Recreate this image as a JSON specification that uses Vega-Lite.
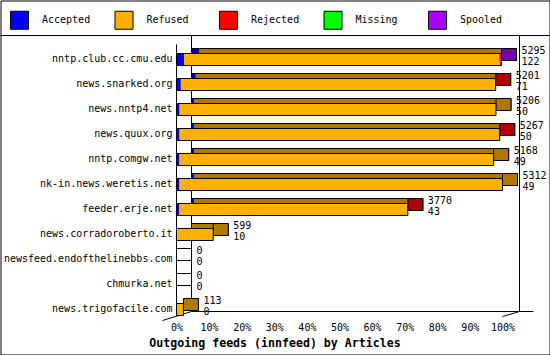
{
  "$schema": "https://vega.github.io/schema/vega-lite/v6.json",
  "width": 549,
  "height": 354,
  "autosize": "none",
  "padding": {"left": 0.5, "top": 0.5, "right": 0.5, "bottom": 0.5},
  "background": "white",
  "title": {"text": "Outgoing feeds (innfeed) by Articles", "orient": "bottom", "anchor": "middle", "frame": "group", "offset": -17, "font": "DejaVu Sans Mono", "fontSize": 11.6, "fontWeight": "bold", "color": "black"},
  "datasets": {
    "frame": [{"first": "nntp.club.cc.cmu.edu", "last": "news.trigofacile.com", "lo": 0, "hi": 5312}],
    "segs": [
      {"host": "nntp.club.cc.cmu.edu", "status": "Accepted", "n": 122},
      {"host": "nntp.club.cc.cmu.edu", "status": "Refused", "n": 5143},
      {"host": "nntp.club.cc.cmu.edu", "status": "Rejected", "n": 20},
      {"host": "nntp.club.cc.cmu.edu", "status": "Spooled", "n": 10},
      {"host": "news.snarked.org", "status": "Accepted", "n": 71},
      {"host": "news.snarked.org", "status": "Refused", "n": 5120},
      {"host": "news.snarked.org", "status": "Rejected", "n": 10},
      {"host": "news.nntp4.net", "status": "Accepted", "n": 50},
      {"host": "news.nntp4.net", "status": "Refused", "n": 5156},
      {"host": "news.quux.org", "status": "Accepted", "n": 50},
      {"host": "news.quux.org", "status": "Refused", "n": 5207},
      {"host": "news.quux.org", "status": "Rejected", "n": 10},
      {"host": "nntp.comgw.net", "status": "Accepted", "n": 49},
      {"host": "nntp.comgw.net", "status": "Refused", "n": 5119},
      {"host": "nk-in.news.weretis.net", "status": "Accepted", "n": 49},
      {"host": "nk-in.news.weretis.net", "status": "Refused", "n": 5263},
      {"host": "feeder.erje.net", "status": "Accepted", "n": 43},
      {"host": "feeder.erje.net", "status": "Refused", "n": 3717},
      {"host": "feeder.erje.net", "status": "Rejected", "n": 10},
      {"host": "news.corradoroberto.it", "status": "Accepted", "n": 10},
      {"host": "news.corradoroberto.it", "status": "Refused", "n": 589},
      {"host": "news.trigofacile.com", "status": "Refused", "n": 113}
    ],
    "totals": [
      {"host": "nntp.club.cc.cmu.edu", "total": 5295, "accepted": 122, "last": "Spooled"},
      {"host": "news.snarked.org", "total": 5201, "accepted": 71, "last": "Rejected"},
      {"host": "news.nntp4.net", "total": 5206, "accepted": 50, "last": "Refused"},
      {"host": "news.quux.org", "total": 5267, "accepted": 50, "last": "Rejected"},
      {"host": "nntp.comgw.net", "total": 5168, "accepted": 49, "last": "Refused"},
      {"host": "nk-in.news.weretis.net", "total": 5312, "accepted": 49, "last": "Refused"},
      {"host": "feeder.erje.net", "total": 3770, "accepted": 43, "last": "Rejected"},
      {"host": "news.corradoroberto.it", "total": 599, "accepted": 10, "last": "Refused"},
      {"host": "newsfeed.endofthelinebbs.com", "total": 0, "accepted": 0, "last": "None"},
      {"host": "chmurka.net", "total": 0, "accepted": 0, "last": "None"},
      {"host": "news.trigofacile.com", "total": 113, "accepted": 0, "last": "Refused"}
    ]
  },
  "layer": [
    {
      "data": {"name": "segs"},
      "mark": {"type": "bar", "opacity": 0},
      "encoding": {
        "x": {"field": "n", "type": "quantitative", "stack": "zero", "title": null,
          "scale": {"domain": [0, 5312], "range": [176, 502], "nice": false, "zero": true},
          "axis": {"values": [0, 531.2, 1062.4, 1593.6, 2124.8, 2656, 3187.2, 3718.4, 4249.6, 4780.8, 5312],
            "labelExpr": "round(datum.value / 53.12) + '%'", "orient": "bottom", "offset": -34, "labelPadding": 2,
            "ticks": false, "domain": false, "grid": false, "labelFont": "DejaVu Sans Mono", "labelFontSize": 10, "labelColor": "black", "labelFlush": false, "labelOverlap": false}},
        "y": {"field": "host", "type": "nominal", "title": null,
          "scale": {"domain": ["nntp.club.cc.cmu.edu", "news.snarked.org", "news.nntp4.net", "news.quux.org", "nntp.comgw.net", "nk-in.news.weretis.net", "feeder.erje.net", "news.corradoroberto.it", "newsfeed.endofthelinebbs.com", "chmurka.net", "news.trigofacile.com"],
            "range": [44, 316], "paddingInner": 0.52, "paddingOuter": 0.2, "align": 0.9},
          "axis": {"orient": "left", "offset": -176, "translate": 0, "ticks": false, "domain": true, "domainColor": "black", "domainWidth": 1, "grid": false,
            "labelPadding": 4, "labelFont": "DejaVu Sans Mono", "labelFontSize": 10, "labelColor": "black", "labelLimit": 300}}
      }
    },
    {
      "data": {"name": "frame"},
      "mark": {"type": "rule", "color": "black", "strokeWidth": 1, "yOffset": -24},
      "encoding": {"y": {"field": "first", "type": "nominal", "title": null}}
    },
    {
      "data": {"name": "frame"},
      "mark": {"type": "rule", "color": "black", "strokeWidth": 1, "xOffset": 15, "yOffset": -24, "y2Offset": 2},
      "encoding": {"x": {"field": "lo", "type": "quantitative", "title": null}, "y": {"field": "first", "type": "nominal", "title": null}, "y2": {"field": "last"}}
    },
    {
      "data": {"name": "frame"},
      "mark": {"type": "rule", "color": "black", "strokeWidth": 1, "xOffset": 17, "yOffset": -24, "y2Offset": 2},
      "encoding": {"x": {"field": "hi", "type": "quantitative", "title": null}, "y": {"field": "first", "type": "nominal", "title": null}, "y2": {"field": "last"}}
    },
    {
      "data": {"name": "frame"},
      "mark": {"type": "rule", "color": "black", "strokeWidth": 1, "xOffset": 15, "x2Offset": 31, "yOffset": 2},
      "encoding": {"x": {"field": "lo", "type": "quantitative", "title": null}, "x2": {"field": "hi"}, "y": {"field": "last", "type": "nominal", "title": null}}
    },
    {
      "data": {"name": "frame"},
      "mark": {"type": "rule", "color": "black", "strokeWidth": 1, "xOffset": -14, "x2Offset": 15, "yOffset": 11, "y2Offset": 2},
      "encoding": {"x": {"field": "lo", "type": "quantitative", "title": null}, "x2": {"field": "lo"}, "y": {"field": "last", "type": "nominal", "title": null}, "y2": {"field": "last"}}
    },
    {
      "data": {"name": "frame"},
      "mark": {"type": "rule", "color": "black", "strokeWidth": 1, "xOffset": 0, "x2Offset": 17, "yOffset": 7, "y2Offset": 2},
      "encoding": {"x": {"field": "hi", "type": "quantitative", "title": null}, "x2": {"field": "hi"}, "y": {"field": "last", "type": "nominal", "title": null}, "y2": {"field": "last"}}
    },
    {
      "data": {"name": "segs"},
      "mark": {"type": "bar", "xOffset": 15, "x2Offset": 15, "yOffset": -5, "y2Offset": -5, "strokeWidth": 0},
      "encoding": {
        "x": {"field": "n", "type": "quantitative", "stack": "zero", "title": null},
        "y": {"field": "host", "type": "nominal", "title": null},
        "color": {"field": "status", "type": "nominal", "legend": null,
          "scale": {"domain": ["Accepted", "Refused", "Rejected", "Missing", "Spooled"], "range": ["#0000B0", "#B07800", "#B00000", "#00B000", "#7400B0"]}}
      }
    },
    {
      "data": {"name": "totals"},
      "mark": {"type": "bar", "xOffset": 15, "x2Offset": 15, "yOffset": -5, "y2Offset": -5, "fillOpacity": 0, "stroke": "black", "strokeWidth": 1},
      "encoding": {
        "x": {"field": "total", "type": "quantitative", "title": null},
        "y": {"field": "host", "type": "nominal", "title": null}
      }
    },
    {
      "data": {"name": "totals"},
      "mark": {"type": "bar", "x2Offset": 15, "yOffset": -5, "y2Offset": -5, "stroke": "black", "strokeWidth": 1},
      "encoding": {
        "x": {"field": "total", "type": "quantitative", "title": null},
        "x2": {"field": "total"},
        "y": {"field": "host", "type": "nominal", "title": null},
        "color": {"field": "last", "type": "nominal", "legend": null,
          "scale": {"domain": ["Accepted", "Refused", "Rejected", "Missing", "Spooled", "None"], "range": ["#0000B0", "#B07800", "#B00000", "#00B000", "#7400B0", "#FFFFFF"]}}
      }
    },
    {
      "data": {"name": "segs"},
      "mark": {"type": "bar", "strokeWidth": 0},
      "encoding": {
        "x": {"field": "n", "type": "quantitative", "stack": "zero", "title": null},
        "y": {"field": "host", "type": "nominal", "title": null},
        "color": {"field": "status", "type": "nominal",
          "scale": {"domain": ["Accepted", "Refused", "Rejected", "Missing", "Spooled"], "range": ["#0000FF", "#FFB000", "#FF0000", "#00FF00", "#AA00FF"]},
          "legend": {"orient": "none", "legendX": 9.5, "legendY": 10, "direction": "horizontal", "columns": 5, "title": null,
            "symbolType": "square", "symbolSize": 324, "symbolStrokeColor": "black", "symbolStrokeWidth": 1, "symbolOpacity": 1,
            "labelFont": "DejaVu Sans Mono", "labelFontSize": 10, "labelColor": "black", "labelOffset": 13,
            "columnPadding": 21.5, "gridAlign": "all", "padding": 0}}
      }
    },
    {
      "data": {"name": "totals"},
      "mark": {"type": "bar", "fillOpacity": 0, "stroke": "black", "strokeWidth": 1},
      "encoding": {
        "x": {"field": "total", "type": "quantitative", "title": null},
        "y": {"field": "host", "type": "nominal", "title": null}
      }
    },
    {
      "data": {"name": "totals"},
      "mark": {"type": "text", "align": "left", "baseline": "middle", "dx": 20, "dy": -9, "font": "DejaVu Sans Mono", "fontSize": 10, "color": "black"},
      "encoding": {
        "x": {"field": "total", "type": "quantitative", "title": null},
        "y": {"field": "host", "type": "nominal", "title": null},
        "text": {"field": "total", "type": "quantitative", "format": "d"}
      }
    },
    {
      "data": {"name": "totals"},
      "mark": {"type": "text", "align": "left", "baseline": "middle", "dx": 20, "dy": 2, "font": "DejaVu Sans Mono", "fontSize": 10, "color": "black"},
      "encoding": {
        "x": {"field": "total", "type": "quantitative", "title": null},
        "y": {"field": "host", "type": "nominal", "title": null},
        "text": {"field": "accepted", "type": "quantitative", "format": "d"}
      }
    }
  ],
  "resolve": {"scale": {"color": "independent"}},
  "config": {
    "view": {"stroke": "black", "strokeWidth": 1},
    "font": "DejaVu Sans Mono"
  }
}
